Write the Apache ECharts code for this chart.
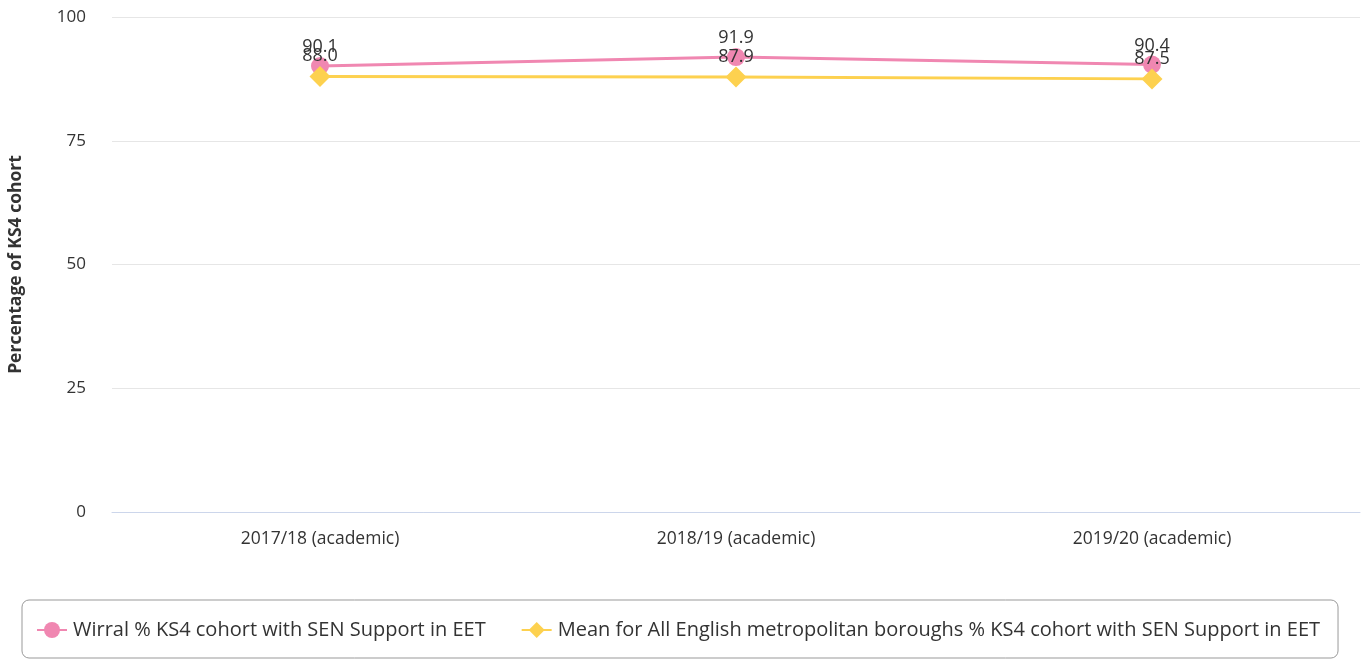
<!DOCTYPE html>
<html><head><meta charset="utf-8">
<script src="https://cdn.jsdelivr.net/npm/echarts@6/dist/echarts.min.js"></script>
<style>html,body{margin:0;padding:0;background:#fff}#c{width:1367px;height:659px}</style>
</head><body><div id="c"></div>
<script>
var categories = ["2017/18 (academic)", "2018/19 (academic)", "2019/20 (academic)"];
var wirral = [90.1, 91.9, 90.4];
var meanMet = [88.0, 87.9, 87.5];
var yTicks = [0, 25, 50, 75, 100];
var seriesNames = ["Wirral % KS4 cohort with SEN Support in EET", "Mean for All English metropolitan boroughs % KS4 cohort with SEN Support in EET"];

var chart = echarts.init(document.getElementById('c'));
var font = '"Open Sans", "Noto Sans", sans-serif';
chart.setOption({
  animation: false,
  textStyle: {fontFamily: font},
  grid: {left: 112, right: 7, top: 17, bottom: 147, outerBoundsMode: 'none', containLabel: false},
  xAxis: {
    type: 'category', data: categories, boundaryGap: true,
    axisLine: {lineStyle: {color: '#ccd6eb', width: 1}},
    axisTick: {show: false},
    axisLabel: {color: '#333', fontSize: 17.5, fontFamily: font, margin: 18}
  },
  yAxis: {
    type: 'value', min: yTicks[0], max: yTicks[yTicks.length - 1], interval: 25,
    name: 'Percentage of KS4 cohort', nameLocation: 'middle', nameGap: 87,
    nameTextStyle: {fontWeight: 'bold', fontSize: 17.5, color: '#333', fontFamily: font},
    axisLabel: {color: '#333', fontSize: 17, fontFamily: font, margin: 26},
    splitLine: {lineStyle: {color: '#e6e6e6'}},
    axisLine: {show: false}, axisTick: {show: false}
  },
  legend: {
    left: 22, top: 600,
    padding: [20, 18, 18, 14],
    borderColor: '#999', borderWidth: 1, borderRadius: 7,
    itemWidth: 30, itemHeight: 20, itemGap: 35,
    textStyle: {fontSize: 20, color: '#333', fontFamily: font, padding: [0, 0, 0, 1]},
    data: seriesNames
  },
  series: [
    {
      name: seriesNames[0], type: 'line', data: wirral,
      symbol: 'circle', symbolSize: 18,
      lineStyle: {color: '#f087b1', width: 3},
      itemStyle: {color: '#f087b1'},
      label: {show: true, position: 'top', distance: 1, fontSize: 18, color: '#333', fontFamily: font,
        formatter: function (p) { return p.value.toFixed(1); }}
    },
    {
      name: seriesNames[1], type: 'line', data: meanMet,
      symbol: 'diamond', symbolSize: 21,
      lineStyle: {color: '#fdd14f', width: 3},
      itemStyle: {color: '#fdd14f'},
      label: {show: true, position: 'top', distance: 1, fontSize: 18, color: '#333', fontFamily: font,
        formatter: function (p) { return p.value.toFixed(1); }}
    }
  ]
});
</script></body></html>
